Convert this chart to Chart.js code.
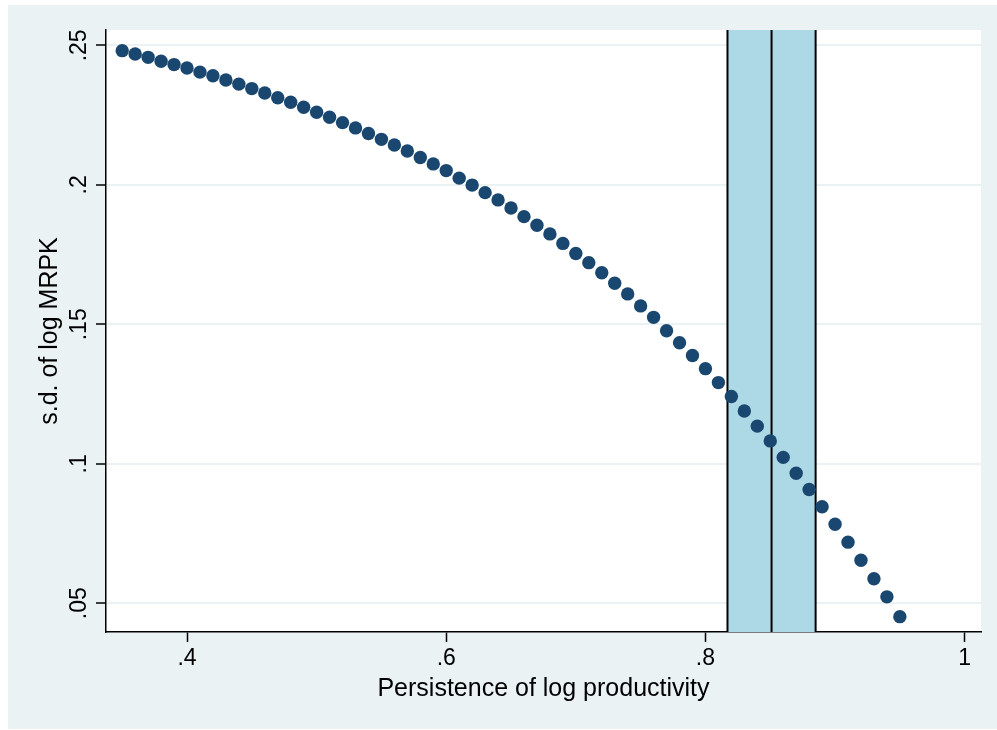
<!DOCTYPE html>
<html>
<head>
<meta charset="utf-8">
<title>s.d. of log MRPK vs persistence</title>
<script src="https://cdn.jsdelivr.net/npm/chart.js@4/dist/chart.umd.min.js"></script>
<style>
  html, body { margin: 0; padding: 0; background: #ffffff; }
  #wrap { width: 997px; height: 730px; }
  canvas { display: block; }
</style>
</head>
<body>
<div id="wrap"><canvas id="c" width="997" height="730"></canvas></div>
<script>
// Persistence of log productivity (rho)
const persistence = [
  0.35, 0.36, 0.37, 0.38, 0.39, 0.40, 0.41, 0.42, 0.43, 0.44,
  0.45, 0.46, 0.47, 0.48, 0.49, 0.50, 0.51, 0.52, 0.53, 0.54,
  0.55, 0.56, 0.57, 0.58, 0.59, 0.60, 0.61, 0.62, 0.63, 0.64,
  0.65, 0.66, 0.67, 0.68, 0.69, 0.70, 0.71, 0.72, 0.73, 0.74,
  0.75, 0.76, 0.77, 0.78, 0.79, 0.80, 0.81, 0.82, 0.83, 0.84,
  0.85, 0.86, 0.87, 0.88, 0.89, 0.90, 0.91, 0.92, 0.93, 0.94,
  0.95
];

// Implied standard deviation of log MRPK
const sdLogMRPK = [
  0.2481, 0.2469, 0.2457, 0.2443, 0.2431, 0.2419, 0.2404, 0.2391, 0.2376, 0.2361,
  0.2345, 0.2329, 0.2312, 0.2296, 0.2278, 0.2260, 0.2242, 0.2223, 0.2204, 0.2184,
  0.2163, 0.2143, 0.2121, 0.2098, 0.2075, 0.2051, 0.2024, 0.1999, 0.1972, 0.1946,
  0.1917, 0.1886, 0.1855, 0.1824, 0.1790, 0.1754, 0.1721, 0.1685, 0.1647, 0.1609,
  0.1566, 0.1525, 0.1477, 0.1434, 0.1388, 0.1341, 0.1291, 0.1241, 0.1189, 0.1135,
  0.1082, 0.1023, 0.0966, 0.0908, 0.0846, 0.0783, 0.0719, 0.0654, 0.0588, 0.0523,
  0.0452
];

// Estimated persistence: point estimate and confidence band
const bandLow = 0.817;
const bandMid = 0.851;
const bandHigh = 0.885;

// Axis ticks and their labels
const xTicks = [0.4, 0.6, 0.8, 1.0];
const xTickLabels = ['.4', '.6', '.8', '1'];
const yTicks = [0.05, 0.10, 0.15, 0.20, 0.25];
const yTickLabels = ['.05', '.1', '.15', '.2', '.25'];

const FONT = '"Liberation Sans", Arial, Helvetica, sans-serif';
const PANEL = 'rgb(234,242,243)';
const NAVY = '#1a476f';
const BAND = 'rgb(173,216,230)';

const points = persistence.map((x, i) => ({ x: x, y: sdLogMRPK[i] }));

// Light panel behind the graph, white plot region on top of it
const panelPlugin = {
  id: 'panel',
  beforeDraw(chart) {
    const { ctx, chartArea: a } = chart;
    ctx.save();
    ctx.fillStyle = '#ffffff';
    ctx.fillRect(0, 0, chart.width, chart.height);
    ctx.fillStyle = PANEL;
    ctx.fillRect(8, 5, chart.width - 8, chart.height - 6);
    ctx.fillStyle = '#ffffff';
    ctx.fillRect(a.left, a.top, a.right - a.left, a.bottom - a.top);
    ctx.restore();
  }
};

// Shaded band with vertical lines at the bounds and the point estimate
const bandPlugin = {
  id: 'band',
  beforeDatasetsDraw(chart) {
    const { ctx, chartArea: a, scales: { x } } = chart;
    const x0 = x.getPixelForValue(bandLow);
    const x1 = x.getPixelForValue(bandHigh);
    const xm = x.getPixelForValue(bandMid);
    ctx.save();
    ctx.fillStyle = BAND;
    ctx.fillRect(x0, a.top, x1 - x0, a.bottom - a.top);
    ctx.strokeStyle = '#000000';
    ctx.lineWidth = 2;
    [x0, xm, x1].forEach(px => {
      ctx.beginPath();
      ctx.moveTo(px, a.top);
      ctx.lineTo(px, a.bottom);
      ctx.stroke();
    });
    ctx.restore();
  }
};

// Vertical axis labels, written sideways
const yLabelPlugin = {
  id: 'yLabels',
  afterDraw(chart) {
    const { ctx, scales: { y } } = chart;
    ctx.save();
    ctx.fillStyle = '#000000';
    ctx.font = '23px ' + FONT;
    ctx.textAlign = 'center';
    ctx.textBaseline = 'alphabetic';
    yTicks.forEach((v, i) => {
      const py = y.getPixelForValue(v);
      ctx.save();
      ctx.translate(y.right - 20, py);
      ctx.rotate(-Math.PI / 2);
      ctx.fillText(yTickLabels[i], 0, 0);
      ctx.restore();
    });
    ctx.restore();
  }
};

new Chart(document.getElementById('c'), {
  type: 'scatter',
  data: {
    datasets: [{
      data: points,
      backgroundColor: NAVY,
      borderColor: NAVY,
      borderWidth: 0,
      pointRadius: 6.7,
      pointHoverRadius: 6.7
    }]
  },
  options: {
    responsive: false,
    devicePixelRatio: 1,
    animation: false,
    events: [],
    layout: { padding: { left: 8, right: 16, top: 30, bottom: 1 } },
    plugins: {
      legend: { display: false },
      tooltip: { enabled: false },
      title: { display: false }
    },
    scales: {
      x: {
        type: 'linear',
        min: 0.3375,
        max: 1.0126,
        afterBuildTicks(scale) { scale.ticks = xTicks.map(v => ({ value: v })); },
        afterFit(scale) { scale.height = 97; },
        ticks: {
          callback(value) {
            const i = xTicks.findIndex(t => Math.abs(t - value) < 1e-9);
            return i >= 0 ? xTickLabels[i] : '';
          },
          color: '#000000',
          font: { family: FONT, size: 23 },
          padding: 3,
          maxRotation: 0,
          minRotation: 0,
          autoSkip: false
        },
        grid: {
          drawOnChartArea: false,
          drawTicks: true,
          tickLength: 10,
          tickColor: '#000000',
          tickWidth: 1.5
        },
        border: { display: true, color: '#000000', width: 1.5 },
        title: {
          display: true,
          text: 'Persistence of log productivity',
          color: '#000000',
          font: { family: FONT, size: 25 },
          padding: { top: 0, bottom: 25 }
        }
      },
      y: {
        type: 'linear',
        min: 0.0397,
        max: 0.2555,
        afterBuildTicks(scale) { scale.ticks = yTicks.map(v => ({ value: v })); },
        afterFit(scale) { scale.width = 98; },
        ticks: { display: false },
        grid: {
          color: PANEL,
          lineWidth: 2,
          drawTicks: true,
          tickLength: 10,
          tickColor: '#000000',
          tickWidth: 1.5
        },
        border: { display: true, color: '#000000', width: 1.5 },
        title: {
          display: true,
          text: 's.d. of log MRPK',
          color: '#000000',
          font: { family: FONT, size: 25 },
          padding: { top: 27, bottom: 0 }
        }
      }
    }
  },
  plugins: [panelPlugin, bandPlugin, yLabelPlugin]
});
</script>
</body>
</html>
